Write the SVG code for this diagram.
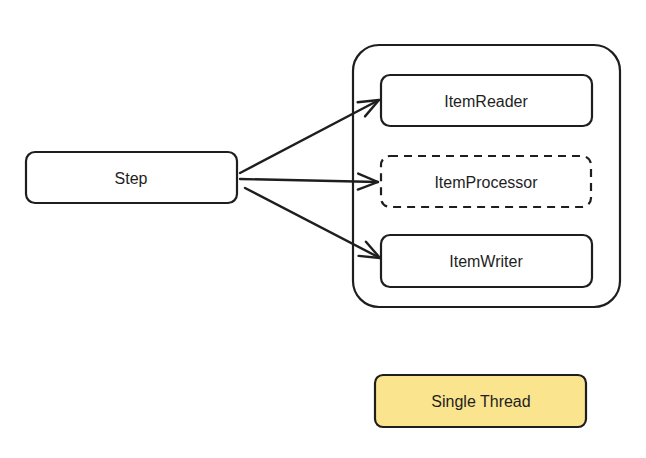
<svg xmlns="http://www.w3.org/2000/svg" width="646" height="458" viewBox="0 0 646 458">
<defs>
<style>
.box{fill:#ffffff;stroke:#1e1e1e;stroke-width:2.2}
.dash{stroke-dasharray:8 6}
.note{fill:#fbe48e;stroke:#1e1e1e;stroke-width:2.2}
.lbl{font-family:"Liberation Sans","DejaVu Sans",sans-serif;font-size:16px;fill:#1e1e1e;text-anchor:middle;dominant-baseline:central}
.conn{fill:none;stroke:#1e1e1e;stroke-width:2.4;stroke-linecap:round}
</style>
<marker id="arr" viewBox="0 0 24 24" refX="22" refY="12" markerWidth="24" markerHeight="24" markerUnits="userSpaceOnUse" orient="auto">
<path d="M2,4 L22,12 L2,20" fill="none" stroke="#1e1e1e" stroke-width="2.4" stroke-linecap="round" stroke-linejoin="round"/>
</marker>
</defs>
<rect width="646" height="458" fill="#ffffff"/>
<g id="container">
<rect class="box" x="353" y="45" width="267" height="262" rx="26"/>
</g>
<g id="step">
<rect class="box" x="26" y="152" width="211" height="51" rx="9"/>
<text class="lbl" x="131" y="178">Step</text>
</g>
<g id="itemreader">
<rect class="box" x="381" y="75" width="211" height="51" rx="9"/>
<text class="lbl" x="486" y="101">ItemReader</text>
</g>
<g id="itemprocessor">
<rect class="box dash" x="381" y="156" width="210" height="51" rx="9"/>
<text class="lbl" x="486" y="182">ItemProcessor</text>
</g>
<g id="itemwriter">
<rect class="box" x="381" y="235" width="211" height="52" rx="9"/>
<text class="lbl" x="486" y="261">ItemWriter</text>
</g>
<g id="singlethread">
<rect class="note" x="375" y="375" width="211" height="52" rx="8"/>
<text class="lbl" x="481" y="401">Single Thread</text>
</g>
<g id="connectors">
<path class="conn" d="M240,173 L379,100" marker-end="url(#arr)"/>
<path class="conn" d="M240,179 L378,182" marker-end="url(#arr)"/>
<path class="conn" d="M245,188 L380,258" marker-end="url(#arr)"/>
</g>
</svg>
